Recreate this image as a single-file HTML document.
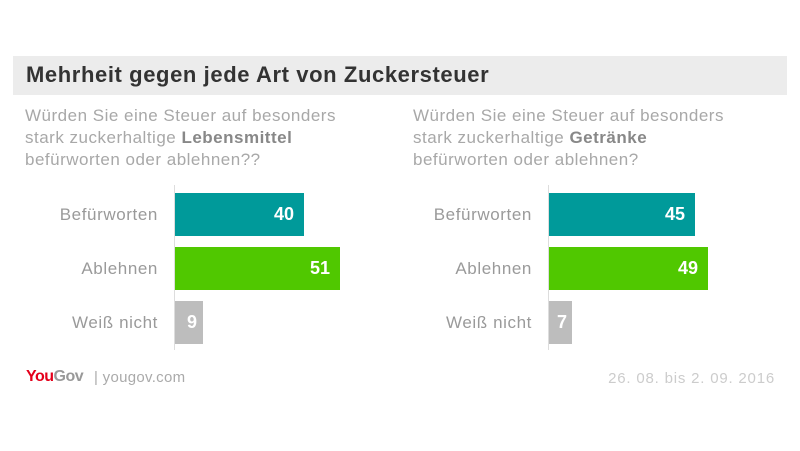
<!DOCTYPE html>
<html><head><meta charset="utf-8"><style>
body{margin:0;width:800px;height:451px;background:#fff;position:relative;overflow:hidden;font-family:"Liberation Sans",sans-serif}
div{position:absolute}
.hdr{left:13px;top:56px;width:774px;height:39px;background:#ececec}
.t{left:26px;top:62px;font-size:22px;font-weight:bold;color:#333;white-space:nowrap;letter-spacing:0.6px}
.q{font-size:17px;color:#a8a8a8;line-height:22px;white-space:nowrap;letter-spacing:0.5px}
.q b{color:#888}
.lab{font-size:17px;color:#9a9a9a;text-align:right;width:150px;white-space:nowrap;line-height:43px;letter-spacing:0.6px}
.bar{height:43px;color:#fff;font-weight:bold;font-size:18px;line-height:43px;text-align:right;box-sizing:border-box;padding-right:10px}
.ax{width:1px;background:#ddd;top:185px;height:165px}
</style></head><body>
<div class="hdr"></div>
<div class="t">Mehrheit gegen jede Art von Zuckersteuer</div>
<div class="q" style="left:25px;top:105px">Würden Sie eine Steuer auf besonders<br>stark zuckerhaltige <b>Lebensmittel</b><br>befürworten oder ablehnen??</div>
<div class="q" style="left:413px;top:105px">Würden Sie eine Steuer auf besonders<br>stark zuckerhaltige <b>Getränke</b><br>befürworten oder ablehnen?</div>

<div class="ax" style="left:174px"></div>
<div class="lab" style="left:8px;top:193px">Befürworten</div>
<div class="lab" style="left:8px;top:247px">Ablehnen</div>
<div class="lab" style="left:8px;top:301px">Weiß nicht</div>
<div class="bar" style="left:175px;top:193px;width:129px;background:#009a9a">40</div>
<div class="bar" style="left:175px;top:247px;width:165px;background:#50c800">51</div>
<div class="bar" style="left:175px;top:301px;width:28px;background:#bdbdbd;padding-right:6px">9</div>

<div class="ax" style="left:548px"></div>
<div class="lab" style="left:382px;top:193px">Befürworten</div>
<div class="lab" style="left:382px;top:247px">Ablehnen</div>
<div class="lab" style="left:382px;top:301px">Weiß nicht</div>
<div class="bar" style="left:549px;top:193px;width:146px;background:#009a9a">45</div>
<div class="bar" style="left:549px;top:247px;width:159px;background:#50c800">49</div>
<div class="bar" style="left:549px;top:301px;width:23px;background:#bdbdbd;padding-right:5px">7</div>

<div style="left:26px;top:368px;font-size:16px;font-weight:bold;white-space:nowrap;letter-spacing:-0.5px"><span style="color:#e4001b">You</span><span style="color:#999">Gov</span></div>
<div style="left:94px;top:369px;font-size:15px;color:#aaa;white-space:nowrap;letter-spacing:0.3px">| yougov.com</div>
<div style="left:580px;top:370px;font-size:15px;color:#ccc;white-space:nowrap;width:195px;text-align:right;letter-spacing:0.8px">26. 08. bis 2. 09. 2016</div>
</body></html>
